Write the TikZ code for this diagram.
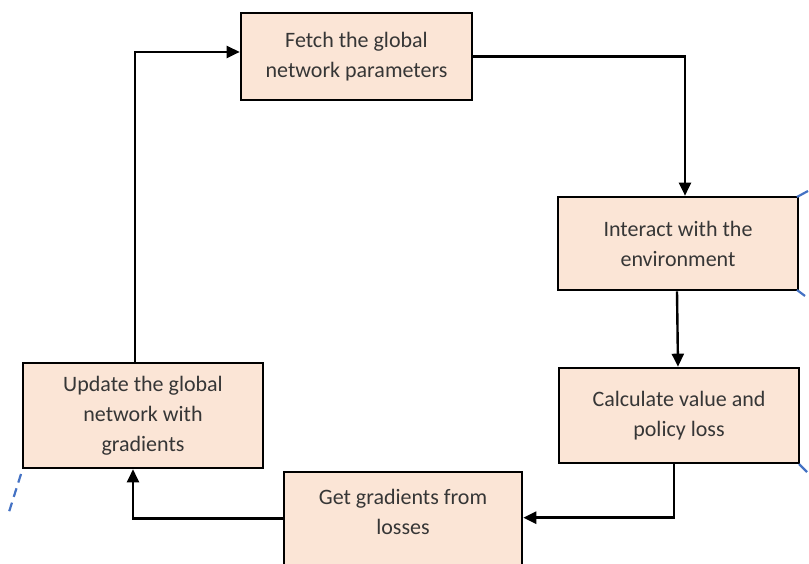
\documentclass[tikz,border=0pt]{standalone}
\usepackage{fontspec}
\setmainfont{Carlito}
\usetikzlibrary{arrows.meta}
\definecolor{boxfill}{HTML}{FBE5D6}
\definecolor{boxtext}{HTML}{363636}
\definecolor{dashblue}{HTML}{4472C4}
\begin{document}
\begin{tikzpicture}[x=1pt,y=1pt,
  stepbox/.style={draw=black, line width=2.6pt, fill=boxfill, inner sep=0pt,
    text=boxtext, align=center, font=\fontsize{22}{30}\selectfont},
  flow/.style={draw=black, line width=2.4pt,
    -{Triangle[length=13pt,width=12pt]}},
  guide/.style={draw=dashblue, line width=2.2pt, dash pattern=on 9pt off 6pt}
]
\useasboundingbox (0,0) rectangle (809,564);

% process steps
\node[stepbox, minimum width=231, minimum height=87] (fetch) at (356.5,507.5)
  {Fetch the global\\network parameters};
\node[stepbox, minimum width=240, minimum height=93] (interact) at (678,320.5)
  {Interact with the\\environment};
\node[stepbox, minimum width=240, minimum height=95] (calc) at (679,148.5)
  {Calculate value and\\policy loss};
\node[stepbox, minimum width=238, minimum height=112] (grad) at (403,36) {};
\node[text=boxtext, align=center, font=\fontsize{22}{30}\selectfont, inner sep=0pt]
  (gradtxt) at ([yshift=-41]grad.north) {Get gradients from\\losses};
\node[stepbox, minimum width=240, minimum height=105] (update) at (143,148.5)
  {Update the global\\network with\\gradients};

% bend points
\coordinate (c1) at ([xshift=7]interact.north);
\coordinate (c3) at ([xshift=-5]calc.south);
\coordinate (c3e) at ([yshift=-47]grad.north east);
\coordinate (c4w) at ([yshift=-48]grad.north west);
\coordinate (c4) at ([xshift=-10]update.south);
\coordinate (c5) at ([xshift=-8]update.north);
\coordinate (c5e) at ([yshift=4.5]fetch.west);
\coordinate (c2a) at ([xshift=-1]interact.south);
\coordinate (c2b) at ([xshift=-1]calc.north);

% cycle connectors
\draw[flow] (fetch.east) -| (c1);
\draw[flow] (c2a) -- (c2b);
\draw[flow] (c3) |- (c3e);
\draw[flow] (c4w) -| (c4);
\draw[flow] (c5) |- (c5e);

% fragments of the dashed outline
\draw[guide, dash pattern=] (797,367) -- (808,373);
\draw[guide, dash pattern=] (797,274) -- (805,268);
\draw[guide, dash pattern=] (799,100) -- (807,92);
\draw[guide] (21,90) -- (9,52);
\end{tikzpicture}
\end{document}
